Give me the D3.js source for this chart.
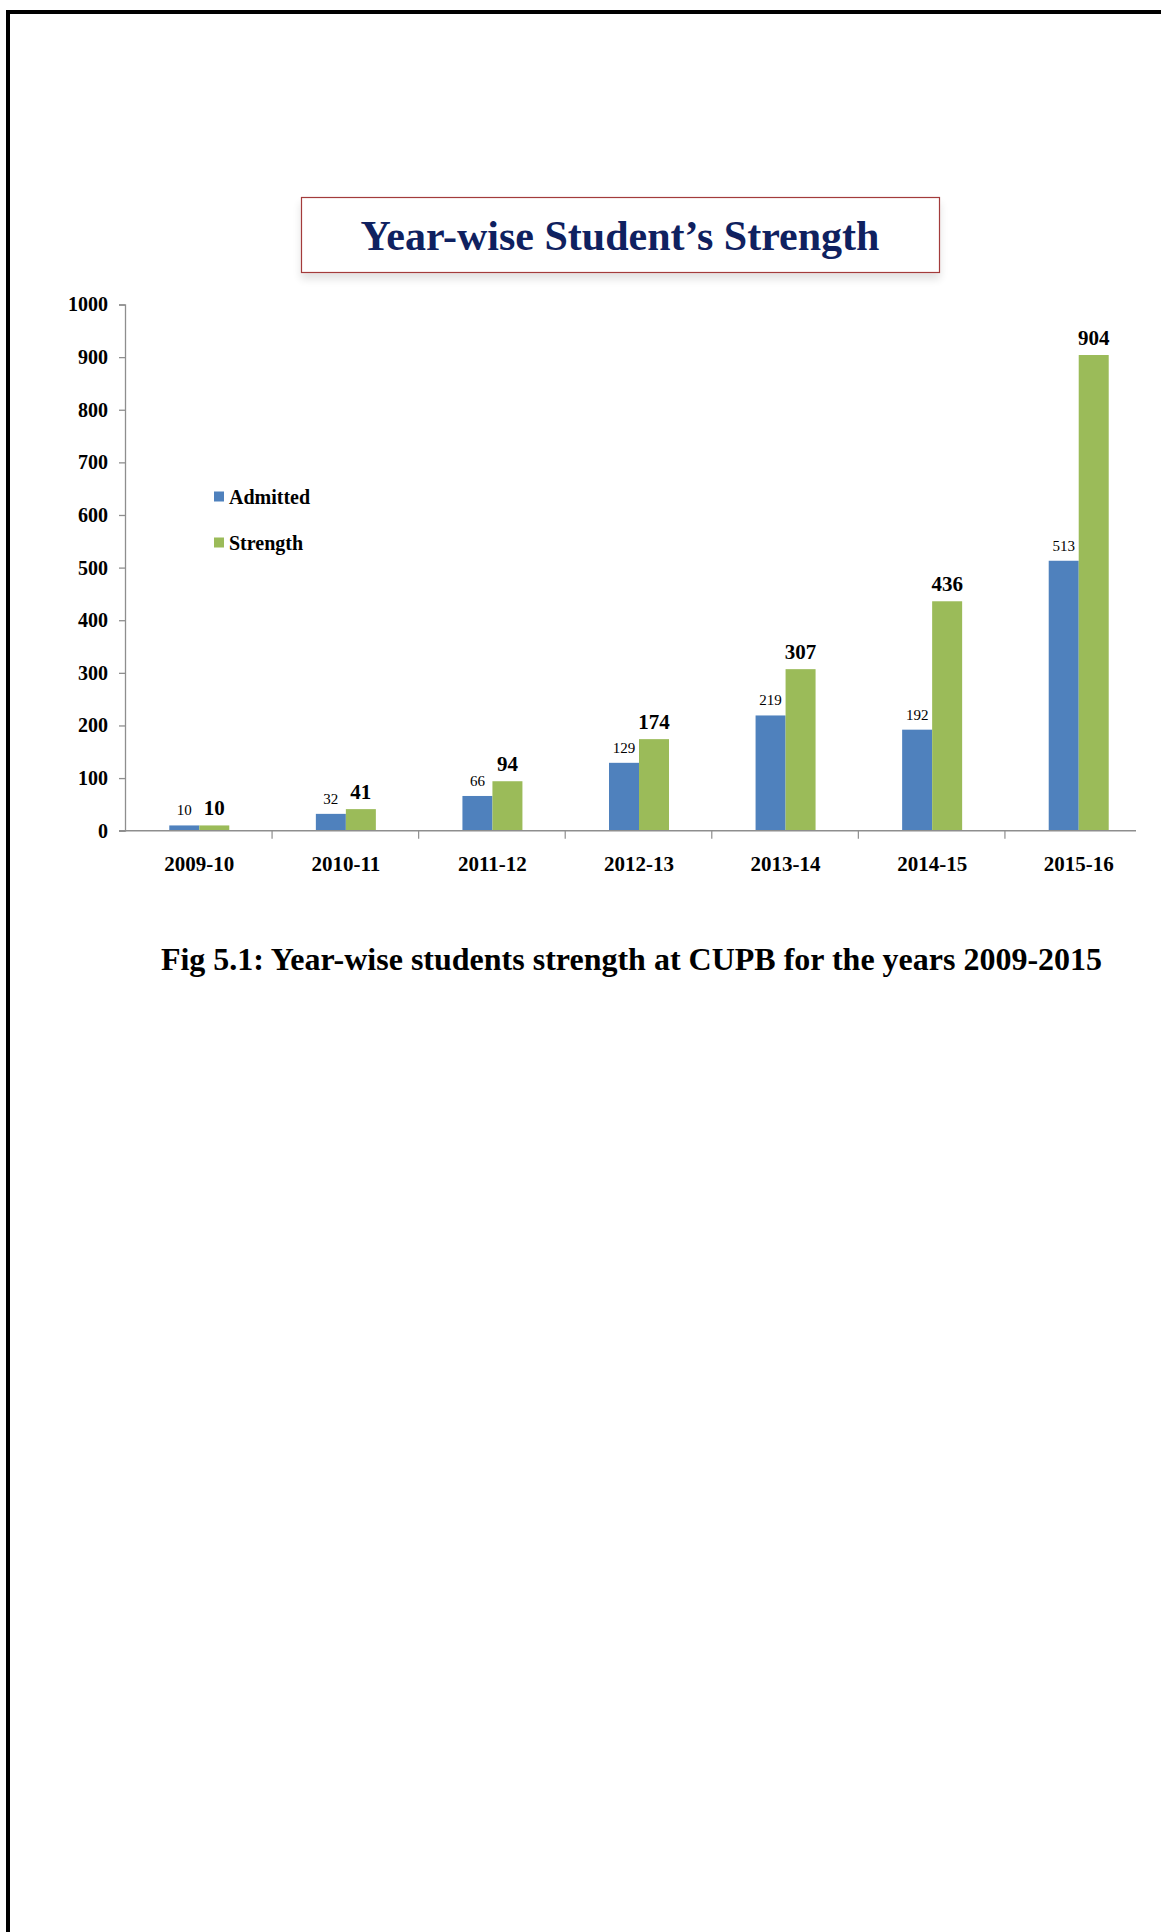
<!DOCTYPE html>
<html>
<head>
<meta charset="utf-8">
<script src="https://cdn.jsdelivr.net/npm/d3@7/dist/d3.min.js"></script>
<style>
  html, body { margin: 0; padding: 0; background: #ffffff; }
  svg { display: block; }
  text { font-family: "Liberation Serif", "Times New Roman", serif; }
</style>
</head>
<body>
<svg id="page" width="1161" height="1932"></svg>
<script>
// Academic years shown on the x axis
const years = ["2009-10", "2010-11", "2011-12", "2012-13", "2013-14", "2014-15", "2015-16"];
// Series names
const seriesNames = ["Admitted", "Strength"];
// Students admitted in each year
const admitted = [10, 32, 66, 129, 219, 192, 513];
// Total student strength in each year
const strength = [10, 41, 94, 174, 307, 436, 904];
// Y axis tick values
const yTicks = [0, 100, 200, 300, 400, 500, 600, 700, 800, 900, 1000];

const titleText = "Year-wise Student\u2019s Strength";
const captionText = "Fig 5.1: Year-wise students strength at CUPB for the years 2009-2015";

const colors = { Admitted: "#4F81BD", Strength: "#9BBB59" };
const axisColor = "#8e8e8e";

const svg = d3.select("#page");

// Page frame (top and left rule)
svg.append("rect").attr("x", 6).attr("y", 10).attr("width", 1161).attr("height", 4).attr("fill", "#000");
svg.append("rect").attr("x", 6).attr("y", 10).attr("width", 4).attr("height", 1932).attr("fill", "#000");

// Soft shadow for the title box
const defs = svg.append("defs");
const f = defs.append("filter").attr("id", "boxShadow").attr("x", "-5%").attr("y", "-20%").attr("width", "110%").attr("height", "160%");
f.append("feGaussianBlur").attr("in", "SourceAlpha").attr("stdDeviation", 4);
f.append("feOffset").attr("dy", 6).attr("result", "off");
f.append("feComponentTransfer").append("feFuncA").attr("type", "linear").attr("slope", 0.12);
const fm = f.append("feMerge");
fm.append("feMergeNode");
fm.append("feMergeNode").attr("in", "SourceGraphic");

// Title box
svg.append("rect")
  .attr("x", 301.5).attr("y", 197.5).attr("width", 638).attr("height", 75)
  .attr("fill", "#fff").attr("stroke", "#a33a3a").attr("stroke-width", 1.2)
  .attr("filter", "url(#boxShadow)");
svg.append("text")
  .attr("x", 620).attr("y", 250)
  .attr("text-anchor", "middle")
  .attr("font-size", 42).attr("font-weight", "bold")
  .attr("fill", "#0f2160")
  .text(titleText);

// Chart scales
const plotLeft = 126, plotRight = 1152, axisEnd = 1136;
const y = d3.scaleLinear().domain([0, 1000]).range([830.7, 304.5]);
const x0 = d3.scaleBand().domain(years).range([plotLeft, plotRight]).paddingInner(0).paddingOuter(0);
const groupWidth = 60;
const x1 = d3.scaleBand().domain(seriesNames)
  .range([(x0.bandwidth() - groupWidth) / 2, (x0.bandwidth() + groupWidth) / 2]);

const rows = years.map((yr, i) => ({ year: yr, Admitted: admitted[i], Strength: strength[i] }));

// Bars
const groups = svg.append("g").selectAll("g").data(rows).join("g")
  .attr("transform", d => `translate(${x0(d.year)},0)`);
groups.selectAll("rect").data(d => seriesNames.map(k => ({ key: k, value: d[k] }))).join("rect")
  .attr("x", d => x1(d.key))
  .attr("y", d => y(d.value))
  .attr("width", x1.bandwidth())
  .attr("height", d => y(0) - y(d.value))
  .attr("fill", d => colors[d.key]);

// Value labels
groups.selectAll("text.val").data(d => seriesNames.map(k => ({ key: k, value: d[k] }))).join("text")
  .attr("class", "val")
  .attr("x", d => x1(d.key) + x1.bandwidth() / 2)
  .attr("y", d => y(d.value) - 10)
  .attr("text-anchor", "middle")
  .attr("font-size", d => d.key === "Strength" ? 21 : 15)
  .attr("font-weight", d => d.key === "Strength" ? "bold" : "normal")
  .attr("fill", "#000")
  .text(d => d.value);

// Y axis
const yAxis = svg.append("g").attr("transform", `translate(${plotLeft - 1},0)`)
  .call(d3.axisLeft(y).tickValues(yTicks).tickSize(6).tickPadding(11).tickFormat(d3.format("d")));
yAxis.select(".domain").attr("stroke", axisColor).attr("stroke-width", 1.3);
yAxis.selectAll(".tick line").attr("stroke", axisColor).attr("stroke-width", 1.3);
yAxis.selectAll(".tick text")
  .attr("font-family", "Liberation Serif, serif")
  .attr("font-size", 20).attr("font-weight", "bold").attr("fill", "#000");

// X axis baseline and category separators
svg.append("line")
  .attr("x1", plotLeft - 7).attr("x2", axisEnd)
  .attr("y1", y(0)).attr("y2", y(0))
  .attr("stroke", axisColor).attr("stroke-width", 1.5);
svg.append("g").selectAll("line").data(years.slice(1)).join("line")
  .attr("x1", d => x0(d) - 0.5).attr("x2", d => x0(d) - 0.5)
  .attr("y1", y(0)).attr("y2", y(0) + 8)
  .attr("stroke", axisColor).attr("stroke-width", 1.2);

// X axis labels
const xAxis = svg.append("g").attr("transform", `translate(0,${y(0)})`)
  .call(d3.axisBottom(x0).tickSize(0).tickPadding(25));
xAxis.select(".domain").remove();
xAxis.selectAll(".tick text")
  .attr("font-family", "Liberation Serif, serif")
  .attr("font-size", 21).attr("font-weight", "bold").attr("fill", "#000");

// Legend
const legend = svg.append("g").attr("transform", "translate(214,491.5)");
const legendItems = legend.selectAll("g").data(seriesNames).join("g")
  .attr("transform", (d, i) => `translate(0,${i * 46})`);
legendItems.append("rect").attr("width", 10).attr("height", 10).attr("fill", d => colors[d]);
legendItems.append("text")
  .attr("x", 15).attr("y", 12)
  .attr("font-size", 20).attr("font-weight", "bold").attr("fill", "#000")
  .text(d => d);

// Figure caption
svg.append("text")
  .attr("x", 631.5).attr("y", 970)
  .attr("text-anchor", "middle")
  .attr("font-size", 32).attr("font-weight", "bold").attr("fill", "#000")
  .text(captionText);
</script>
</body>
</html>
